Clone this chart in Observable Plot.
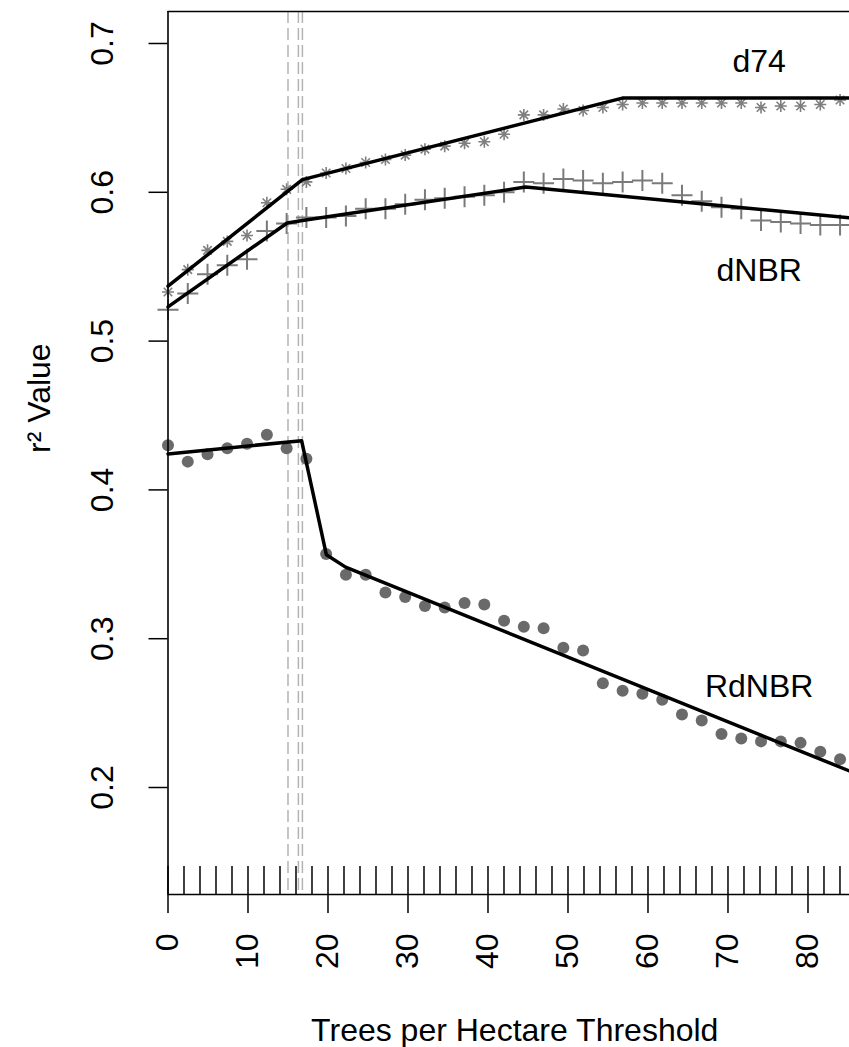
<!DOCTYPE html>
<html>
<head>
<meta charset="utf-8">
<script src="https://cdn.jsdelivr.net/npm/d3@7"></script>
<script src="https://cdn.jsdelivr.net/npm/@observablehq/plot@0.6"></script>
<style>
  html, body { margin: 0; padding: 0; background: #fff; }
  #chart svg { display: block; }
</style>
</head>
<body>
<div id="chart"></div>
<script>
// Thresholds (trees per hectare; 1 tree/acre steps)
const thresholds = [0, 2.47, 4.94, 7.41, 9.88, 12.36, 14.83, 17.30, 19.77, 22.24, 24.71, 27.18,
  29.65, 32.12, 34.59, 37.07, 39.54, 42.01, 44.48, 46.95, 49.42, 51.89, 54.36, 56.83, 59.30,
  61.78, 64.25, 66.72, 69.19, 71.66, 74.13, 76.60, 79.07, 81.54, 84.01];

const d74 = [0.533, 0.548, 0.561, 0.567, 0.571, 0.593, 0.602, 0.607, 0.613, 0.616, 0.620, 0.622,
  0.625, 0.629, 0.631, 0.633, 0.634, 0.639, 0.652, 0.652, 0.656, 0.655, 0.657, 0.659, 0.660,
  0.660, 0.660, 0.660, 0.660, 0.660, 0.657, 0.658, 0.658, 0.659, 0.662];

const dNBR = [0.521, 0.532, 0.545, 0.551, 0.555, 0.574, 0.579, 0.583, 0.583, 0.584, 0.589, 0.589,
  0.592, 0.595, 0.596, 0.597, 0.598, 0.600, 0.607, 0.606, 0.609, 0.608, 0.606, 0.607, 0.608,
  0.606, 0.598, 0.594, 0.590, 0.589, 0.581, 0.580, 0.579, 0.578, 0.578];

const RdNBR = [0.430, 0.419, 0.424, 0.428, 0.431, 0.437, 0.428, 0.421, 0.357, 0.343, 0.343, 0.331,
  0.328, 0.322, 0.321, 0.324, 0.323, 0.312, 0.308, 0.307, 0.294, 0.292, 0.270, 0.265, 0.263,
  0.259, 0.249, 0.245, 0.236, 0.233, 0.231, 0.231, 0.230, 0.224, 0.219];

// Segmented-regression fits (breakpoints)
const d74FitX = [0, 16.8, 56.8, 85.19];
const d74FitY = [0.5369, 0.6085, 0.6633, 0.6633];
const dNBRFitX = [0, 14.9, 17.0, 44.7, 85.19];
const dNBRFitY = [0.5230, 0.5794, 0.5812, 0.6035, 0.5828];
const RdNBRFitX = [0, 16.7, 19.8, 22.2, 85.19];
const RdNBRFitY = [0.4242, 0.4331, 0.3564, 0.3481, 0.2111];

// Estimated breakpoints (dashed lines)
const breakpoints = [15.0, 16.3, 16.8];

// Series labels
const labelNames = ["d74", "dNBR", "RdNBR"];
const labelX = [73.9, 73.9, 73.9];
const labelY = [0.6874, 0.5472, 0.2680];

// Axis ticks
const xTicks = [0, 10, 20, 30, 40, 50, 60, 70, 80];
const yTicks = [0.2, 0.3, 0.4, 0.5, 0.6, 0.7];
const rugTicks = d3.range(0, 86, 2);

const xDomain = [0, 85.19];
const yDomain = [0.1281, 0.7215];

const pts = (ys) => thresholds.map((x, i) => ({x, y: ys[i]}));
const fit = (xs, ys) => xs.map((x, i) => ({x, y: ys[i]}));
const labels = labelNames.map((t, i) => ({t, x: labelX[i], y: labelY[i]}));

const pch3 = {draw(ctx, size) {
  const r = Math.sqrt(size / Math.PI);
  ctx.moveTo(-r, 0); ctx.lineTo(r, 0);
  ctx.moveTo(0, -r); ctx.lineTo(0, r);
}};
const pch8 = {draw(ctx, size) {
  const r = Math.sqrt(size / Math.PI);
  const d = r * Math.SQRT1_2;
  ctx.moveTo(-r, 0); ctx.lineTo(r, 0);
  ctx.moveTo(0, -r); ctx.lineTo(0, r);
  ctx.moveTo(-d, -d); ctx.lineTo(d, d);
  ctx.moveTo(-d, d); ctx.lineTo(d, -d);
}};

const font = "'Liberation Sans', Arial, Helvetica, sans-serif";

const chart = Plot.plot({
  width: 849,
  height: 1047,
  marginLeft: 167.5,
  marginRight: 0,
  marginTop: 11,
  marginBottom: 153,
  x: {domain: xDomain},
  y: {domain: yDomain},
  style: {fontFamily: font, fontSize: "32px", background: "#fff", color: "#000", overflow: "hidden"},
  marks: [
    Plot.ruleX(breakpoints, {stroke: "#b3b3b3", strokeWidth: 1.5, strokeDasharray: "12,5"}),
    Plot.dot(pts(RdNBR), {x: "x", y: "y", r: 6, fill: "#6a6a6a", stroke: "none"}),
    Plot.dot(pts(dNBR), {x: "x", y: "y", r: 10.5, symbol: pch3, fill: "none", stroke: "#7a7a7a", strokeWidth: 2}),
    Plot.dot(pts(d74), {x: "x", y: "y", r: 6, symbol: pch8, fill: "none", stroke: "#7f7f7f", strokeWidth: 1.6}),
    Plot.line(fit(d74FitX, d74FitY), {x: "x", y: "y", stroke: "#000", strokeWidth: 3.5}),
    Plot.line(fit(dNBRFitX, dNBRFitY), {x: "x", y: "y", stroke: "#000", strokeWidth: 3.5}),
    Plot.line(fit(RdNBRFitX, RdNBRFitY), {x: "x", y: "y", stroke: "#000", strokeWidth: 3.5}),
    Plot.text(labels, {x: "x", y: "y", text: "t", fontSize: 32, fill: "#000", lineAnchor: "middle"}),
    // frame: left, top, bottom
    Plot.ruleX([xDomain[0]], {stroke: "#000", strokeWidth: 1.6}),
    Plot.ruleY([yDomain[1]], {stroke: "#000", strokeWidth: 1.6}),
    Plot.ruleY([yDomain[0]], {stroke: "#000", strokeWidth: 1.6}),
    // rug ticks inside bottom
    Plot.ruleX(rugTicks, {stroke: "#000", strokeWidth: 1.5, insetTop: 855}),
    Plot.axisX({ticks: xTicks, tickSize: 19, tickPadding: 20, tickRotate: -90, label: null,
      strokeWidth: 1.5, fontSize: 32, fill: "#000"}),
    Plot.axisY({ticks: yTicks, tickSize: 19, tickPadding: 36, tickRotate: -90, label: null,
      tickFormat: d3.format(".1f"), strokeWidth: 1.5, fontSize: 32, fill: "#000"}),
    Plot.text(["Trees per Hectare Threshold"], {frameAnchor: "bottom", dx: 6, dy: 146,
      lineAnchor: "bottom", fontSize: 32, fill: "#000"}),
    Plot.text(["r² Value"], {frameAnchor: "left", dx: -118, rotate: -90,
      lineAnchor: "bottom", fontSize: 32, fill: "#000"})
  ]
});
document.getElementById("chart").appendChild(chart);
</script>
</body>
</html>
